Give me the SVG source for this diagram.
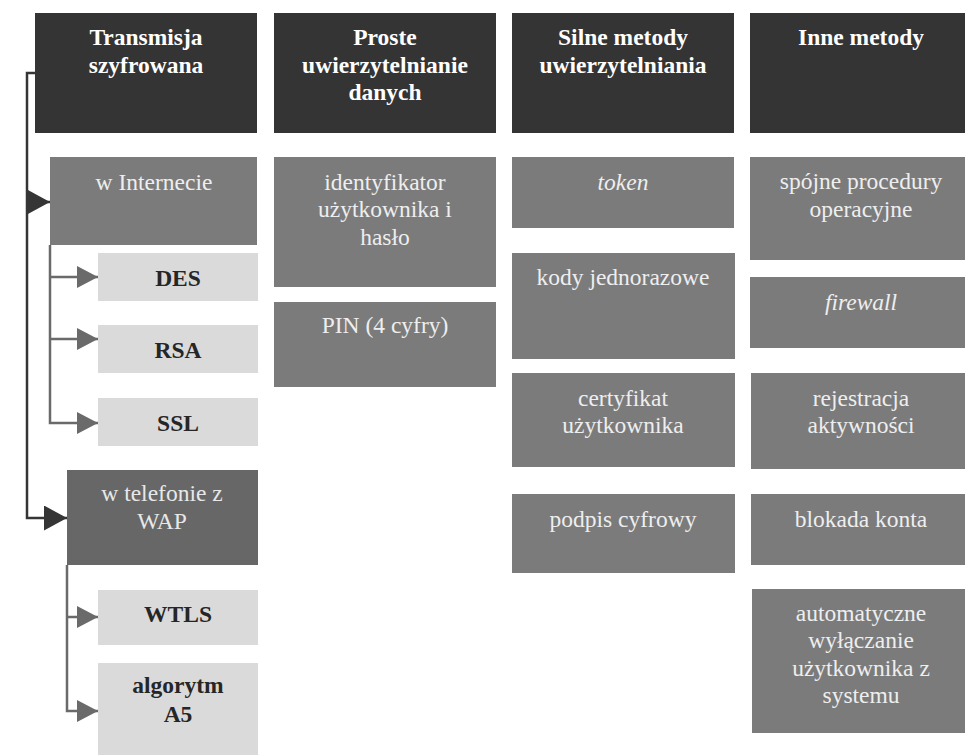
<svg xmlns="http://www.w3.org/2000/svg" width="965" height="755" viewBox="0 0 965 755">
<defs>
<style>
text{font-family:'Liberation Serif','DejaVu Serif',serif;font-size:23.5px;text-anchor:middle}
.hd rect{fill:#343434}
.hd text{fill:#ffffff;font-weight:bold}
.md rect{fill:#7b7b7b}
.md text{fill:#eeeeee}
.dk rect{fill:#676767}
.dk text{fill:#e8e8e8}
.lt rect{fill:#dadada}
.lt text{fill:#262626;font-weight:bold}
.it{font-style:italic}
.c1{fill:none;stroke:#353535;stroke-width:2.5}
.c2{fill:none;stroke:#6a6a6a;stroke-width:2.5}
</style>
<marker id="ad" markerUnits="userSpaceOnUse" markerWidth="23" markerHeight="25" refX="23" refY="12.5" orient="auto">
<path d="M0,0 L23,12.5 L0,25 z" fill="#353535"/>
</marker>
<marker id="ag" markerUnits="userSpaceOnUse" markerWidth="21" markerHeight="22" refX="21" refY="11" orient="auto">
<path d="M0,0 L21,11 L0,22 z" fill="#6a6a6a"/>
</marker>
</defs>
<rect width="965" height="755" fill="#ffffff"/>
<g font-family="Liberation Serif, DejaVu Serif, serif">
<g id="h1" class="hd"><rect x="35" y="13" width="222" height="120"/><text x="146" y="45">Transmisja</text><text x="146" y="73">szyfrowana</text></g>
<g id="h2" class="hd"><rect x="274" y="13" width="222" height="120"/><text x="385" y="45">Proste</text><text x="385" y="73">uwierzytelnianie</text><text x="385" y="100">danych</text></g>
<g id="h3" class="hd"><rect x="512" y="13" width="222" height="120"/><text x="623" y="45">Silne metody</text><text x="623" y="73">uwierzytelniania</text></g>
<g id="h4" class="hd"><rect x="750" y="13" width="225" height="120"/><text x="861" y="45">Inne metody</text></g>

<g id="internet" class="md"><rect x="50" y="157" width="207" height="88"/><text x="154" y="190">w Internecie</text></g>
<g id="des" class="lt"><rect x="98" y="253" width="160" height="48"/><text x="178" y="286">DES</text></g>
<g id="rsa" class="lt"><rect x="98" y="325" width="160" height="48"/><text x="178" y="358">RSA</text></g>
<g id="ssl" class="lt"><rect x="98" y="398" width="160" height="48"/><text x="178" y="431">SSL</text></g>
<g id="wap" class="dk"><rect x="67" y="470" width="191" height="95"/><text x="162" y="501">w telefonie z</text><text x="162" y="529">WAP</text></g>
<g id="wtls" class="lt"><rect x="98" y="590" width="160" height="55"/><text x="178" y="622">WTLS</text></g>
<g id="a5" class="lt"><rect x="98" y="663" width="160" height="92"/><text x="178" y="693">algorytm</text><text x="178" y="722">A5</text></g>

<g id="ident" class="md"><rect x="274" y="157" width="222" height="130"/><text x="385" y="190">identyfikator</text><text x="385" y="217">użytkownika i</text><text x="385" y="245">hasło</text></g>
<g id="pin" class="md"><rect x="274" y="302" width="222" height="85"/><text x="385" y="333">PIN (4 cyfry)</text></g>

<g id="token" class="md"><rect x="512" y="157" width="222" height="71"/><text x="623" y="190" class="it">token</text></g>
<g id="kody" class="md"><rect x="512" y="253" width="223" height="106"/><text x="623" y="285">kody jednorazowe</text></g>
<g id="cert" class="md"><rect x="512" y="373" width="223" height="94"/><text x="623" y="406">certyfikat</text><text x="623" y="433">użytkownika</text></g>
<g id="podpis" class="md"><rect x="512" y="494" width="223" height="79"/><text x="623" y="527">podpis cyfrowy</text></g>

<g id="spojne" class="md"><rect x="750" y="157" width="225" height="103"/><text x="861" y="189">spójne procedury</text><text x="861" y="217">operacyjne</text></g>
<g id="firewall" class="md"><rect x="750" y="277" width="225" height="71"/><text x="861" y="310" class="it">firewall</text></g>
<g id="rejestr" class="md"><rect x="751" y="373" width="224" height="96"/><text x="861" y="406">rejestracja</text><text x="861" y="433">aktywności</text></g>
<g id="blokada" class="md"><rect x="751" y="494" width="224" height="71"/><text x="861" y="527">blokada konta</text></g>
<g id="auto" class="md"><rect x="752" y="589" width="223" height="144"/><text x="861" y="621">automatyczne</text><text x="861" y="648">wyłączanie</text><text x="861" y="676">użytkownika z</text><text x="861" y="703">systemu</text></g>
</g>
<g id="connectors">
<path class="c1" d="M35,73 H27 V518 H67" marker-end="url(#ad)"/>
<path class="c1" d="M27,202 H50" marker-end="url(#ad)"/>
<path class="c2" d="M50,245 V423 H98" marker-end="url(#ag)"/>
<path class="c2" d="M50,277 H98" marker-end="url(#ag)"/>
<path class="c2" d="M50,339 H98" marker-end="url(#ag)"/>
<path class="c2" d="M67,565 V711 H98" marker-end="url(#ag)"/>
<path class="c2" d="M67,617 H98" marker-end="url(#ag)"/>
</g>
</svg>
